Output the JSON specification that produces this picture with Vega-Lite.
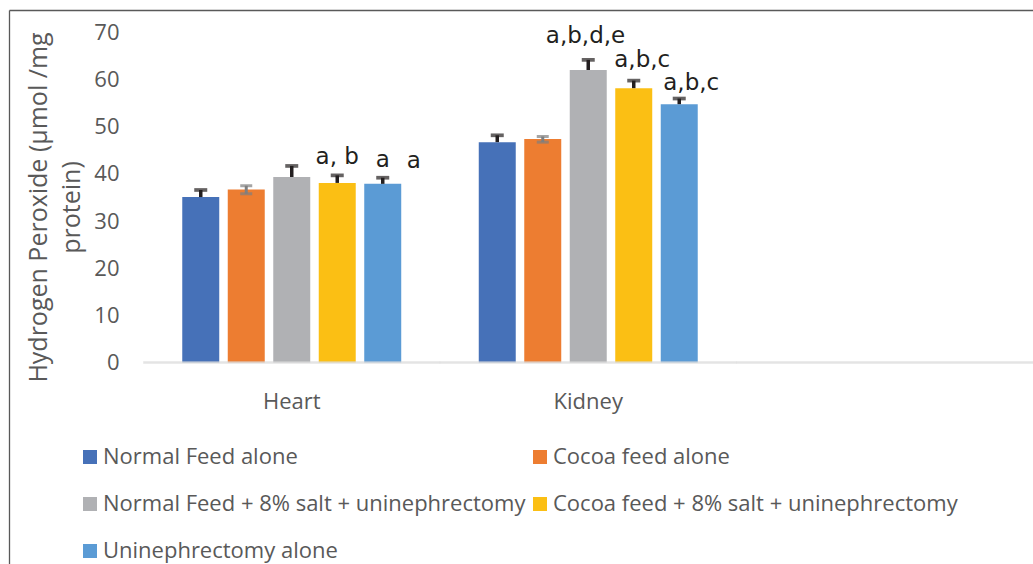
{
  "$schema": "https://vega.github.io/schema/vega-lite/v6.json",
  "width": 1024,
  "height": 554,
  "autosize": {"type": "none"},
  "padding": {"left": 9, "top": 10, "right": 0, "bottom": 0},
  "background": "white",
  "config": {"view": {"stroke": null}, "axis": {"grid": false}},
  "datasets": {
    "h2o2": [
      {"organ": "Heart", "group": "Normal Feed alone", "mean": 35.1, "upper": 36.6},
      {"organ": "Heart", "group": "Cocoa feed alone", "mean": 36.7, "upper": 37.5, "lower": 35.8},
      {"organ": "Heart", "group": "Normal Feed + 8% salt + uninephrectomy", "mean": 39.35, "upper": 41.7},
      {"organ": "Heart", "group": "Cocoa feed + 8% salt + uninephrectomy", "mean": 38.1, "upper": 39.7, "letters": "a, b"},
      {"organ": "Heart", "group": "Uninephrectomy alone", "mean": 37.9, "upper": 39.2, "letters": "a", "extra": "a"},
      {"organ": "Kidney", "group": "Normal Feed alone", "mean": 46.75, "upper": 48.2},
      {"organ": "Kidney", "group": "Cocoa feed alone", "mean": 47.4, "upper": 47.95, "lower": 46.75},
      {"organ": "Kidney", "group": "Normal Feed + 8% salt + uninephrectomy", "mean": 62.05, "upper": 64.2, "letters": "a,b,d,e"},
      {"organ": "Kidney", "group": "Cocoa feed + 8% salt + uninephrectomy", "mean": 58.2, "upper": 59.8, "letters": "a,b,c"},
      {"organ": "Kidney", "group": "Uninephrectomy alone", "mean": 54.8, "upper": 56.0, "letters": "a,b,c"}
    ],
    "organs": [{"organ": "Heart"}, {"organ": "Kidney"}, {"organ": " "}]
  },
  "resolve": {"axis": {"x": "independent"}},
  "layer": [
    {
      "data": {"name": "h2o2"},
      "mark": {"type": "bar"},
      "encoding": {
        "x": {"field": "organ", "type": "nominal", "sort": null,
          "scale": {"domain": ["Heart", "Kidney", " "], "paddingInner": 0, "paddingOuter": 0.2268, "align": 1},
          "axis": {"orient": "bottom", "offset": -201.5, "domain": false, "ticks": false, "labelPadding": 29, "labelAngle": 0,
            "labelFont": "Open Sans", "labelFontSize": 22, "labelColor": "#595959", "title": null}},
        "xOffset": {"field": "group", "type": "nominal",
          "scale": {"domain": ["Normal Feed alone", "Cocoa feed alone", "Normal Feed + 8% salt + uninephrectomy", "Cocoa feed + 8% salt + uninephrectomy", "Uninephrectomy alone"], "paddingInner": 0.187, "paddingOuter": 0.852}},
        "y": {"field": "mean", "type": "quantitative",
          "scale": {"domain": [-42.74, 74.78], "nice": false, "zero": false},
          "axis": {"orient": "left", "values": [0, 10, 20, 30, 40, 50, 60, 70], "domain": true, "domainColor": "#595959", "domainWidth": 1.3,
            "ticks": false, "grid": false, "labelPadding": -110, "labelAlign": "right",
            "labelFont": "Open Sans", "labelFontSize": 22, "labelColor": "#595959",
            "title": ["Hydrogen Peroxide (µmol /mg", "protein)"], "titleFont": "Open Sans", "titleFontSize": 25,
            "titleFontWeight": "normal", "titleColor": "#595959", "titleX": 37, "titleY": 197, "titleAngle": -90,
            "titleAlign": "center", "titleBaseline": "alphabetic", "titleLineHeight": 33}},
        "y2": {"datum": 0},
        "color": {"field": "group", "type": "nominal",
          "scale": {"domain": ["Normal Feed alone", "Cocoa feed alone", "Normal Feed + 8% salt + uninephrectomy", "Cocoa feed + 8% salt + uninephrectomy", "Uninephrectomy alone"],
            "range": ["#4671B8", "#ED7D31", "#B0B1B4", "#FBBF14", "#5B9BD5"]},
          "legend": {"orient": "none", "legendX": 70, "legendY": 436, "columns": 2, "direction": "horizontal", "title": null,
            "symbolType": "square", "symbolSize": 196, "symbolStrokeWidth": 0, "labelFont": "Open Sans",
            "labelFontSize": 22, "labelColor": "#595959", "labelOffset": 2, "rowPadding": 25, "columnPadding": 3,
            "padding": 0, "labelLimit": 1000}}
      }
    },
    {
      "data": {"name": "organs"},
      "mark": {"type": "tick", "orient": "horizontal", "size": 297, "thickness": 2.5, "color": "#D9D9D9"},
      "encoding": {
        "x": {"field": "organ", "type": "nominal", "sort": null,
          "axis": {"orient": "top", "domain": true, "domainColor": "#595959", "domainWidth": 1.3, "labels": false, "ticks": false, "title": null, "grid": false}},
        "y": {"datum": 0, "type": "quantitative"}
      }
    },
    {
      "data": {"name": "h2o2"},
      "transform": [{"filter": "datum.group !== 'Cocoa feed alone'"}],
      "mark": {"type": "rule", "strokeWidth": 3.5, "color": "#231F20"},
      "encoding": {
        "x": {"field": "organ", "type": "nominal", "sort": null, "axis": null},
        "xOffset": {"field": "group", "type": "nominal"},
        "y": {"field": "mean", "type": "quantitative"},
        "y2": {"field": "upper"}
      }
    },
    {
      "data": {"name": "h2o2"},
      "transform": [{"filter": "datum.group !== 'Cocoa feed alone'"}],
      "mark": {"type": "tick", "orient": "horizontal", "size": 13, "thickness": 3.7, "color": "#231F20"},
      "encoding": {
        "x": {"field": "organ", "type": "nominal", "sort": null, "axis": null},
        "xOffset": {"field": "group", "type": "nominal"},
        "y": {"field": "upper", "type": "quantitative"}
      }
    },
    {
      "data": {"name": "h2o2"},
      "transform": [{"filter": "datum.group === 'Cocoa feed alone'"}],
      "mark": {"type": "rule", "strokeWidth": 3, "color": "#7F7F7F"},
      "encoding": {
        "x": {"field": "organ", "type": "nominal", "sort": null, "axis": null},
        "xOffset": {"field": "group", "type": "nominal"},
        "y": {"field": "lower", "type": "quantitative"},
        "y2": {"field": "upper"}
      }
    },
    {
      "data": {"name": "h2o2"},
      "transform": [{"filter": "datum.group === 'Cocoa feed alone'"}],
      "mark": {"type": "tick", "orient": "horizontal", "size": 12, "thickness": 3, "color": "#7F7F7F"},
      "encoding": {
        "x": {"field": "organ", "type": "nominal", "sort": null, "axis": null},
        "xOffset": {"field": "group", "type": "nominal"},
        "y": {"field": "upper", "type": "quantitative"}
      }
    },
    {
      "data": {"name": "h2o2"},
      "transform": [{"filter": "datum.group === 'Cocoa feed alone'"}],
      "mark": {"type": "tick", "orient": "horizontal", "size": 12, "thickness": 3, "color": "#7F7F7F"},
      "encoding": {
        "x": {"field": "organ", "type": "nominal", "sort": null, "axis": null},
        "xOffset": {"field": "group", "type": "nominal"},
        "y": {"field": "lower", "type": "quantitative"}
      }
    },
    {
      "data": {"name": "h2o2"},
      "encoding": {
        "x": {"field": "organ", "type": "nominal", "sort": null, "axis": null},
        "xOffset": {"field": "group", "type": "nominal"},
        "y": {"field": "upper", "type": "quantitative"},
        "text": {"field": "letters"}
      },
      "layer": [
        {
          "transform": [{"filter": "datum.organ === 'Heart' && isValid(datum.letters)"}],
          "mark": {"type": "text", "font": "DejaVu Sans", "fontSize": 23, "color": "#231F20", "baseline": "alphabetic", "align": "center", "dy": -11}
        },
        {
          "transform": [{"filter": "datum.organ === 'Kidney' && datum.group === 'Normal Feed + 8% salt + uninephrectomy'"}],
          "mark": {"type": "text", "font": "DejaVu Sans", "fontSize": 23, "color": "#231F20", "baseline": "alphabetic", "align": "center", "dx": -2.7, "dy": -16.7}
        },
        {
          "transform": [{"filter": "datum.organ === 'Kidney' && datum.group === 'Cocoa feed + 8% salt + uninephrectomy'"}],
          "mark": {"type": "text", "font": "DejaVu Sans", "fontSize": 23, "color": "#231F20", "baseline": "alphabetic", "align": "center", "dx": 8.5, "dy": -13.4}
        },
        {
          "transform": [{"filter": "datum.organ === 'Kidney' && datum.group === 'Uninephrectomy alone'"}],
          "mark": {"type": "text", "font": "DejaVu Sans", "fontSize": 23, "color": "#231F20", "baseline": "alphabetic", "align": "center", "dx": 12, "dy": -8.5}
        },
        {
          "transform": [{"filter": "isValid(datum.extra)"}],
          "mark": {"type": "text", "font": "DejaVu Sans", "fontSize": 23, "color": "#231F20", "baseline": "alphabetic", "align": "center", "dx": 31, "dy": -9.5},
          "encoding": {"text": {"field": "extra"}}
        }
      ]
    }
  ]
}
